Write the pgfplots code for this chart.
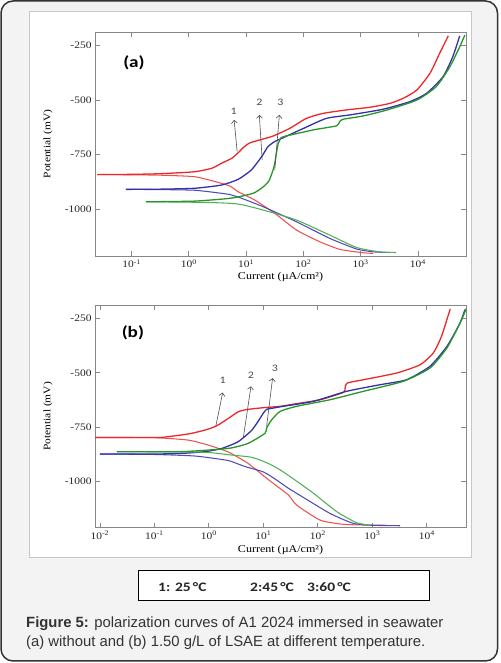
\documentclass[border=0pt]{standalone}
\usepackage{fontspec}
\setmainfont{Liberation Serif}
\newfontfamily\axfont[FakeStretch=1.15]{Liberation Serif}
\newfontfamily\calfont[FakeStretch=1.2]{Carlito}
\newfontfamily\capfont{Liberation Sans}
\usepackage{pgfplots}
\pgfplotsset{compat=1.18}
\usetikzlibrary{arrows.meta}
\definecolor{cr}{RGB}{238,40,40}
\definecolor{cb}{RGB}{50,50,170}
\definecolor{cg}{RGB}{40,150,40}
\definecolor{crl}{RGB}{240,80,80}
\definecolor{cbl}{RGB}{75,75,185}
\definecolor{cgl}{RGB}{80,175,80}
\definecolor{framegray}{RGB}{135,135,135}
\definecolor{arrowc}{RGB}{80,80,80}
\definecolor{outerbg}{RGB}{242,243,242}
\tikzset{
  anod/.style={line width=1.3bp, smooth, tension=0.35},
  cath/.style={line width=1.05bp, smooth, tension=0.35},
  arr/.style={draw=arrowc, line width=0.6bp, -{Straight Barb[length=3bp,width=6bp]}},
  nlab/.style={font=\calfont\fontsize{10}{12}\selectfont, text=black!70},
}
\pgfplotsset{polstyle/.style={
  scale only axis, width=371bp,
  tick align=inside, major tick length=5bp,
  axis line style={draw=framegray, line width=0.9bp},
  every tick/.style={draw=framegray, line width=0.8bp},
  ytick={-250,-500,-750,-1000}, yticklabels={-250,-500,-750,-1000},
  tick label style={font=\axfont\fontsize{10}{12}\selectfont, text=black!85},
  xlabel style={font=\axfont\fontsize{10.5}{12}\selectfont, anchor=center},
  ylabel style={font=\axfont\fontsize{10}{12}\selectfont, anchor=center, at={(axis description cs:-0.1267,0.5)}},
  ylabel={Potential (mV)}, xlabel={Current (µA/cm²)},
}}
\begin{document}
\begin{tikzpicture}[x=1bp,y=1bp]
\path[use as bounding box] (0,0) rectangle (501,663);
\draw[draw=black!80, line width=1.5bp, fill=outerbg, rounded corners=12bp] (1,2) rectangle (497.5,662);
\draw[draw=black!22, line width=1bp, fill=white] (29,105) rectangle (471.5,651);

% ---------- panel (a)
\begin{axis}[polstyle, at={(95bp,407bp)}, anchor=south west, height=224bp,
  xmin=-1.64, xmax=4.84, ymin=-1216, ymax=-187,
  xtick={-1,0,1,2,3,4},
  xticklabels={10\textsuperscript{-1},10\textsuperscript{0},10\textsuperscript{1},10\textsuperscript{2},10\textsuperscript{3},10\textsuperscript{4}},
  xlabel style={at={(axis description cs:0.5,-0.094)}}]
% red 25 C
\addplot[crl, cath] coordinates {(3.22,-1204) (3.04,-1201) (2.64,-1186) (2.29,-1151) (1.88,-1097) (1.50,-1020) (1.15,-959) (0.86,-921) (0.72,-895) (0.51,-878) (0.105,-852) (-0.48,-845) (-1.0,-843) (-1.6,-842)};
\addplot[cr, anod] coordinates {(-1.6,-842) (-1.0,-841) (-0.5,-838) (0.1,-829) (0.4,-813) (0.57,-790) (0.75,-767) (0.86,-742) (0.95,-718) (1.06,-697) (1.25,-682) (1.47,-665) (1.76,-630) (2.05,-584) (2.34,-561) (2.75,-545) (3.16,-533) (3.51,-515) (3.74,-492) (3.98,-454) (4.21,-377) (4.38,-285) (4.53,-205)};
% blue 45 C
\addplot[cbl, cath] coordinates {(3.51,-1200) (3.22,-1197) (2.93,-1184) (2.46,-1135) (1.88,-1059) (1.30,-990) (0.92,-951) (0.72,-934) (0.51,-926) (0.1,-914) (-0.5,-911) (-1.1,-910)};
\addplot[cb, anod] coordinates {(-1.1,-910) (-0.5,-909) (0.1,-905) (0.57,-890) (0.86,-864) (1.09,-821) (1.27,-760) (1.38,-714) (1.50,-690) (1.62,-676) (2.0,-630) (2.40,-584) (2.81,-568) (3.39,-542) (3.86,-507) (4.15,-469) (4.44,-392) (4.61,-300) (4.73,-205)};
% green 60 C
\addplot[cgl, cath] coordinates {(3.62,-1200) (3.33,-1197) (2.93,-1177) (2.46,-1120) (1.88,-1051) (1.30,-1005) (0.92,-980) (0.72,-974) (0.3,-970) (-0.3,-968) (-0.75,-967)};
\addplot[cg, anod] coordinates {(-0.75,-967) (0.1,-964) (0.72,-951) (1.01,-936) (1.15,-925) (1.30,-898) (1.40,-870) (1.47,-821) (1.50,-790) (1.53,-740) (1.56,-700) (1.60,-678) (1.65,-668) (2.17,-637) (2.58,-618) (2.63,-600) (2.69,-588) (3.04,-573) (3.45,-546) (3.98,-500) (4.32,-438) (4.56,-346) (4.73,-255) (4.82,-201)};
% arrows
\draw[arr] (axis cs:0.843,-737) -- (axis cs:0.79,-591);
\draw[arr] (axis cs:1.28,-775) -- (axis cs:1.23,-568);
\draw[arr] (axis cs:1.50,-821) -- (axis cs:1.58,-568);
\node[nlab] at (axis cs:0.78,-550) {1};
\node[nlab] at (axis cs:1.23,-512) {2};
\node[nlab] at (axis cs:1.60,-512) {3};
\node[font=\calfont\bfseries\fontsize{16}{18}\selectfont] at (axis cs:-0.96,-327) {(a)};
\end{axis}

% ---------- panel (b)
\begin{axis}[polstyle, at={(95bp,135.3bp)}, anchor=south west, height=222.7bp,
  xmin=-2.09, xmax=4.72, ymin=-1211, ymax=-189,
  xtick={-2,-1,0,1,2,3,4},
  xticklabels={10\textsuperscript{-2},10\textsuperscript{-1},10\textsuperscript{0},10\textsuperscript{1},10\textsuperscript{2},10\textsuperscript{3},10\textsuperscript{4}},
  xlabel style={at={(axis description cs:0.5,-0.1)}}]
% red
\addplot[crl, cath] coordinates {(3.27,-1200) (2.7,-1198) (2.41,-1194) (2.04,-1176) (1.61,-1107) (1.46,-1061) (1.09,-990) (0.72,-916) (0.36,-864) (-0.01,-832) (-0.38,-809) (-1.0,-798) (-2.09,-797)};
\addplot[cr, anod] coordinates {(-2.09,-797) (-1.0,-797) (-0.87,-797) (-0.38,-781) (-0.07,-763) (0.14,-744) (0.36,-709) (0.54,-679) (0.69,-669) (0.97,-661) (1.31,-654) (1.58,-643) (2.04,-624) (2.47,-590) (2.50,-570) (2.54,-547) (2.84,-532) (3.45,-501) (3.88,-463) (4.12,-409) (4.27,-333) (4.43,-207)};
% blue
\addplot[cbl, cath] coordinates {(3.51,-1202) (3.0,-1200) (2.65,-1191) (2.22,-1145) (1.61,-1053) (1.46,-1030) (1.2,-985) (1.0,-955) (0.66,-930) (0.39,-905) (0.24,-898) (-0.26,-882) (-1.0,-875) (-2.0,-873)};
\addplot[cb, anod] coordinates {(-2.0,-873) (-1.0,-873) (-0.5,-870) (-0.07,-862) (0.24,-847) (0.54,-816) (0.79,-763) (0.94,-709) (1.0,-685) (1.06,-668) (1.18,-662) (1.34,-655) (1.92,-631) (2.53,-585) (3.14,-555) (3.63,-532) (4.06,-470) (4.37,-379) (4.61,-272) (4.70,-210)};
% green
\addplot[cgl, cath] coordinates {(2.96,-1200) (2.71,-1188) (2.35,-1138) (1.92,-1053) (1.58,-992) (1.31,-946) (1.09,-916) (0.79,-888) (0.39,-877) (0.0,-866) (-0.5,-863) (-1.69,-862)};
\addplot[cg, anod] coordinates {(-1.69,-862) (-0.5,-862) (0.36,-847) (0.72,-824) (1.03,-778) (1.06,-754) (1.15,-717) (1.31,-677) (1.61,-654) (2.22,-624) (2.84,-585) (3.57,-539) (4.06,-478) (4.37,-386) (4.61,-272) (4.73,-203)};
% arrows
\draw[arr] (axis cs:0.125,-748) -- (axis cs:0.254,-591);
\draw[arr] (axis cs:0.632,-799) -- (axis cs:0.773,-562);
\draw[arr] (axis cs:1.06,-746) -- (axis cs:1.17,-524);
\node[nlab] at (axis cs:0.254,-536) {1};
\node[nlab] at (axis cs:0.773,-511) {2};
\node[nlab] at (axis cs:1.21,-481) {3};
\node[font=\calfont\bfseries\fontsize{16}{18}\selectfont] at (axis cs:-1.395,-318) {(b)};
\end{axis}

% ---------- legend box
\draw[black, line width=1bp, fill=white] (138,62) rectangle (429,92.3);
\begin{scope}[every node/.style={anchor=west, inner sep=0pt, font=\calfont\bfseries\fontsize{13}{15}\selectfont, text=black!85}]
\node at (158,76.3) {1: 25\,°C};
\node at (250,76.3) {2:45\,°C};
\node at (307,76.3) {3:60\,°C};
\end{scope}

% ---------- caption
\begin{scope}[every node/.style={anchor=base west, inner sep=0pt, font=\capfont\fontsize{14.9}{17}\selectfont, text=black!80}]
\node at (26,35) {\textbf{Figure 5:} polarization curves of A1 2024 immersed in seawater};
\node at (26,16) {(a) without and (b) 1.50 g/L of LSAE at different temperature.};
\end{scope}
\end{tikzpicture}
\end{document}
